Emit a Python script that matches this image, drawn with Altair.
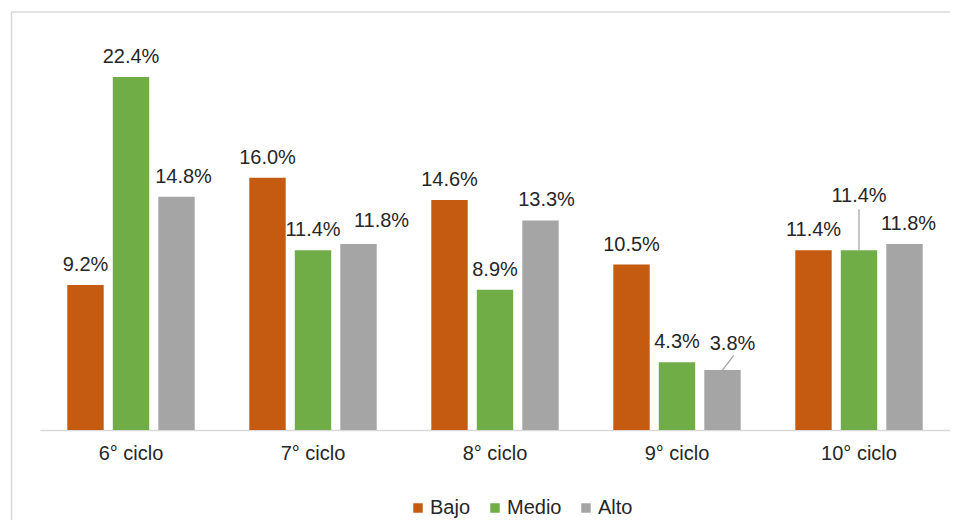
import altair as alt
import pandas as pd

ciclos = ["6° ciclo", "7° ciclo", "8° ciclo", "9° ciclo", "10° ciclo"]
niveles = ["Bajo", "Medio", "Alto"]
bajo = [9.2, 16.0, 14.6, 10.5, 11.4]
medio = [22.4, 11.4, 8.9, 4.3, 11.4]
alto = [14.8, 11.8, 13.3, 3.8, 11.8]
colores = ["#C55A11", "#70AD47", "#A5A5A5"]

# label placement tweaks seen in the original
raised_label = {("10° ciclo", "Medio"): 13.6, ("9° ciclo", "Alto"): 4.19,
                ("7° ciclo", "Alto"): 12.0}
label_dx = {("6° ciclo", "Alto"): 7, ("7° ciclo", "Alto"): 23,
            ("8° ciclo", "Alto"): 6, ("9° ciclo", "Alto"): 10,
            ("10° ciclo", "Alto"): 4}
leader_top = {("10° ciclo", "Medio"): 14.0}

rows = []
for i, c in enumerate(ciclos):
    for nivel, serie in zip(niveles, [bajo, medio, alto]):
        v = serie[i]
        rows.append({
            "ciclo": c,
            "nivel": nivel,
            "valor": v,
            "label": f"{v:.1f}%",
            "label_y": raised_label.get((c, nivel), v),
            "ldx": label_dx.get((c, nivel), 0),
            "leader_top": leader_top.get((c, nivel), v),
            "sleader": (c, nivel) == ("9° ciclo", "Alto"),
            "vleader": (c, nivel) in leader_top,
        })
df = pd.DataFrame(rows)

FONT = "Liberation Sans, Arial, sans-serif"
TXT = "#262626"
FS = 20

x_enc = alt.X(
    "ciclo:N", sort=ciclos,
    scale=alt.Scale(paddingInner=0, paddingOuter=0),
    axis=alt.Axis(title=None, labelAngle=0, ticks=False, domainColor="#D9D9D9",
                  domainWidth=1.5, labelFontSize=FS, labelFont=FONT,
                  labelColor=TXT, labelPadding=13),
)
xo_enc = alt.XOffset("nivel:N", sort=niveles,
                     scale=alt.Scale(paddingInner=0.2, paddingOuter=0.6))
y_scale = alt.Scale(domain=[0, 25], nice=False, zero=True)

base = alt.Chart(df)

bars = base.mark_bar().encode(
    x=x_enc,
    xOffset=xo_enc,
    y=alt.Y("valor:Q", scale=y_scale, axis=None),
    color=alt.Color(
        "nivel:N", sort=niveles,
        scale=alt.Scale(domain=niveles, range=colores),
        legend=alt.Legend(orient="none", legendX=368, legendY=462,
                          direction="horizontal", title=None,
                          symbolType="square", symbolSize=90,
                          symbolStrokeWidth=0, labelFontSize=FS,
                          labelFont=FONT, labelColor=TXT, columnPadding=14,
                          labelOffset=2, padding=0),
    ),
)

label_layers = []
for d in sorted(set(df["ldx"])):
    label_layers.append(
        base.transform_filter(f"datum.ldx == {d}").mark_text(
            baseline="alphabetic", dy=-14, dx=int(d), fontSize=FS, font=FONT,
            color=TXT
        ).encode(
            x=x_enc, xOffset=xo_enc,
            y=alt.Y("label_y:Q", scale=y_scale, axis=None),
            text="label:N",
        )
    )

vleader = base.transform_filter("datum.vleader").mark_rule(
    color="#A5A5A5", strokeWidth=1.3
).encode(
    x=x_enc, xOffset=xo_enc,
    y=alt.Y("valor:Q", scale=y_scale, axis=None),
    y2="leader_top:Q",
)

sleader = base.transform_filter("datum.sleader").mark_point(
    shape="M0,0L0.75,-0.98", size=900, filled=False, color="#A5A5A5",
    strokeWidth=1.3, opacity=1
).encode(
    x=x_enc, xOffset=xo_enc,
    y=alt.Y("valor:Q", scale=y_scale, axis=None),
)

border = alt.Chart(pd.DataFrame({"k": [0]})).mark_rect(
    fillOpacity=0, stroke="#D9D9D9", strokeWidth=1.5
).encode(
    x=alt.value(-28.5), x2=alt.value(930), y=alt.value(-24), y2=alt.value(540)
)

chart = alt.layer(border, bars, *label_layers, vleader, sleader).properties(
    width=910, height=394,
    autosize=alt.AutoSizeParams(type="none"),
    padding={"left": 32, "top": 28, "right": 0, "bottom": 90},
    background="white",
).configure_view(stroke="transparent")

chart.save("out.html", embed_options={"renderer": "svg", "actions": False})
